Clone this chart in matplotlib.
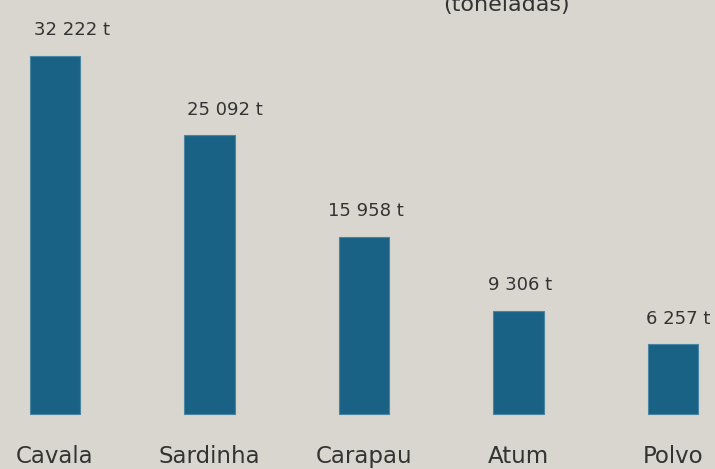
#import library
import matplotlib.pyplot as plt
import numpy as np

#define datasets
categories = ["Cavala", "Sardinha", "Carapau", "Atum", "Polvo"]
catch_tonnes = [32222, 25092, 15958, 9306, 6257]
value_labels = ["32 222 t", "25 092 t", "15 958 t", "9 306 t", "6 257 t"]
unit_note = "(toneladas)"

#style
bg_color = "#d9d6cf"
bar_color = "#1a6285"
text_color = "#333333"
label_dx = [12, 11, 1, 1, 4]  # small horizontal nudges of the value labels (points)

x = np.arange(len(categories))
width = 0.324

#define fig and plot size
fig = plt.figure(figsize=(7.15, 4.69), dpi=100, facecolor=bg_color)
ax = fig.add_axes([0, 0, 1, 1])
ax.set_facecolor(bg_color)

#bars
ax.bar(x, catch_tonnes, width=width, color=bar_color,
       edgecolor="#4a84a3", linewidth=0.8)

#value labels above bars
for xi, val, lab, dx in zip(x, catch_tonnes, value_labels, label_dx):
    ax.annotate(lab, (xi, val), xytext=(dx, 18.5), textcoords="offset points",
                ha="center", va="center", fontsize=13, color=text_color,
                family="DejaVu Sans")

#category labels under bars
for xi, cat in zip(x, categories):
    ax.annotate(cat, (xi, 0), xytext=(0, -35), textcoords="offset points",
                ha="center", va="baseline", fontsize=16.5, color=text_color,
                family="DejaVu Sans")

#unit note, cut off at the top like the reference
fig.text(0.709, 1 - 11 / 469, unit_note, ha="center", va="baseline",
         fontsize=16, color=text_color, family="DejaVu Sans")

#axis limits
ax.set_xlim(-0.356, 4.272)
ax.set_ylim(-4950, 37260)
ax.axis("off")

fig.savefig("out.png", dpi=100, facecolor=bg_color)
